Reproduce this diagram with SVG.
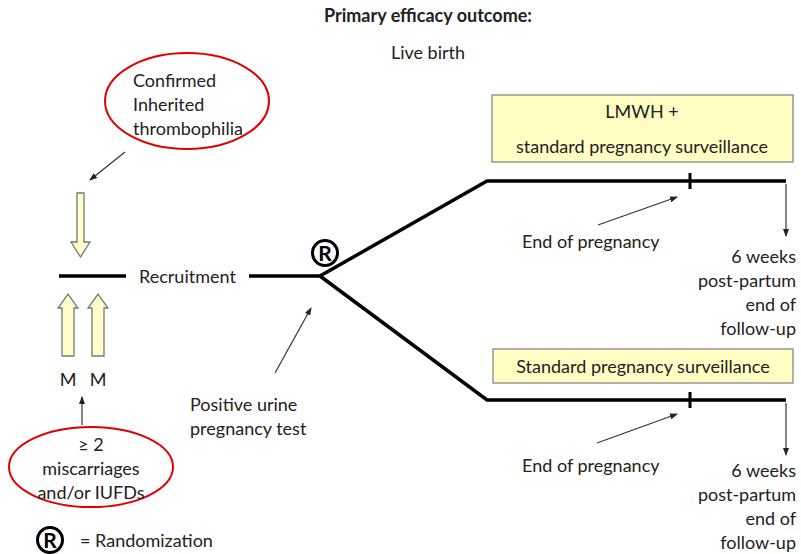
<svg xmlns="http://www.w3.org/2000/svg" width="801" height="554" viewBox="0 0 801 554">
<style>
text{font-family:"Lato","Open Sans","Liberation Sans",sans-serif;font-size:18px;fill:#222}
.b{font-weight:bold}
.m{text-anchor:middle}
.r{text-anchor:end}
.thick{stroke:#000;stroke-width:3.5;fill:none}
.thin{stroke:#333;stroke-width:1.2;fill:none;marker-end:url(#ah)}
.blk{fill:#FFFFCC;stroke:#777;stroke-width:1.3}
.box{fill:#FFFFC4;stroke:#888;stroke-width:1.3}
.ell{fill:none;stroke:#E00000;stroke-width:2}
.rc{fill:none;stroke:#000;stroke-width:3}
.rt{font-weight:bold;font-size:21px;fill:#000;text-anchor:middle}
</style>
<defs>
<marker id="ah" markerWidth="8" markerHeight="8" refX="7" refY="4" orient="auto" markerUnits="userSpaceOnUse">
<path d="M0,1 L8,4 L0,7 Z" fill="#222"/>
</marker>
</defs>
<g id="title">
<text class="b m" x="428" y="22">Primary efficacy outcome:</text>
<text class="m" x="428" y="59">Live birth</text>
</g>
<g id="thrombophilia">
<ellipse class="ell" cx="187" cy="101" rx="82" ry="48"/>
<text x="133" y="87">Confirmed</text>
<text x="133" y="111">Inherited</text>
<text x="133" y="135">thrombophilia</text>
</g>
<g id="miscarriages">
<ellipse class="ell" cx="91" cy="467" rx="82" ry="40"/>
<text class="m" x="91" y="451">≥ 2</text>
<text class="m" x="91" y="475">miscarriages</text>
<text class="m" x="91" y="499">and/or IUFDs</text>
</g>
<g id="block-arrows">
<path class="blk" d="M77,193 H84 V242 H90 L80.5,257 L71,242 H77 Z"/>
<path class="blk" d="M62,356 V308 H58 L68,294 L78,308 H74 V356 Z"/>
<path class="blk" d="M92,356 V308 H88 L98,294 L108,308 H104 V356 Z"/>
<text class="m" x="68" y="386">M</text>
<text class="m" x="98" y="386">M</text>
</g>
<g id="recruitment">
<text x="139" y="283">Recruitment</text>
</g>
<g id="randomization">
<circle class="rc" cx="325" cy="253" r="12.5"/>
<text class="rt" x="325" y="260.5">R</text>
</g>
<g id="legend">
<circle class="rc" cx="50" cy="540" r="12.5"/>
<text class="rt" x="50" y="547.5">R</text>
<text x="80" y="547">= Randomization</text>
</g>
<g id="positive-test">
<text x="190" y="411">Positive urine</text>
<text x="190" y="435">pregnancy test</text>
</g>
<g id="lmwh-arm">
<rect class="box" x="492" y="95" width="301" height="67"/>
<text class="m" x="642" y="118">LMWH +</text>
<text class="m" x="642" y="153">standard pregnancy surveillance</text>
<text x="522" y="248">End of pregnancy</text>
<text class="r" x="796" y="263">6 weeks</text>
<text class="r" x="796" y="287">post-partum</text>
<text class="r" x="796" y="311">end of</text>
<text class="r" x="796" y="335">follow-up</text>
</g>
<g id="standard-arm">
<rect class="box" x="493" y="349" width="300" height="34"/>
<text class="m" x="643" y="373">Standard pregnancy surveillance</text>
<text x="522" y="472">End of pregnancy</text>
<text class="r" x="796" y="477">6 weeks</text>
<text class="r" x="796" y="501">post-partum</text>
<text class="r" x="796" y="525">end of</text>
<text class="r" x="796" y="549">follow-up</text>
</g>
<g id="connectors">
<path class="thick" d="M59,276 H126"/>
<path class="thick" d="M249,276 H320 L487,181 H786"/>
<path class="thick" d="M320,276 L487,400 H786"/>
<path d="M690,173 V189 M690,392 V408" stroke="#000" stroke-width="3"/>
<path class="thin" d="M125,152 L90,180"/>
<path class="thin" d="M82,425 L82,397"/>
<path class="thin" d="M275,373 L311,308"/>
<path class="thin" d="M598,225 L677,197"/>
<path class="thin" d="M597,443 L677,414"/>
<path class="thin" d="M786,184 V236"/>
<path class="thin" d="M786,403 V455"/>
</g>
</svg>
